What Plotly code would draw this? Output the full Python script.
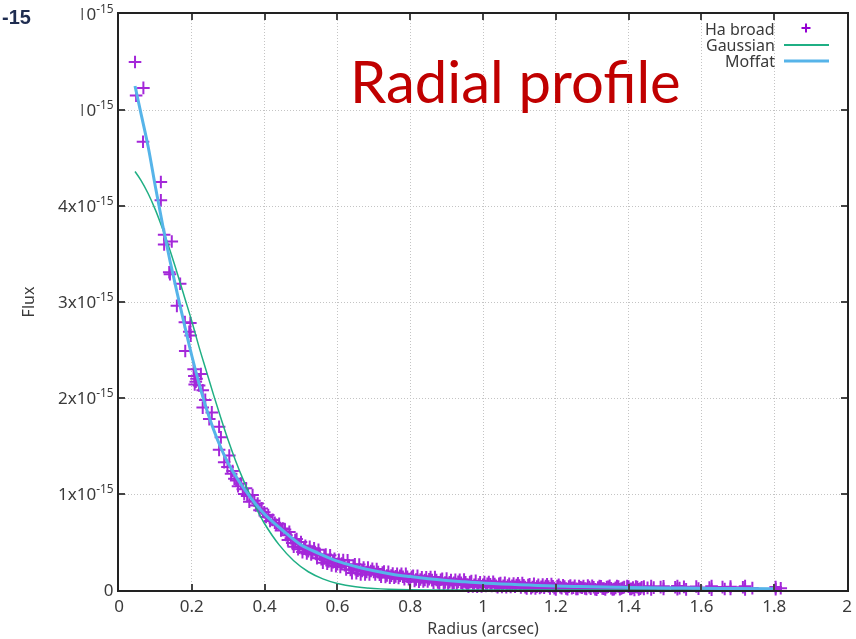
import plotly.graph_objects as go

# ---------------- data (flux in units of 1e-15) ----------------
ha_x = [0.044, 0.067, 0.047, 0.066, 0.115, 0.115, 0.124, 0.124, 0.145, 0.138, 0.140, 0.168, 0.159,
        0.181, 0.196, 0.193, 0.197, 0.182, 0.207, 0.225, 0.211, 0.220, 0.230, 0.205, 0.213, 0.208,
        0.237, 0.230, 0.255, 0.248, 0.275, 0.280, 0.275, 0.303, 0.289, 0.298, 0.308, 0.312, 0.317,
        0.322, 0.327, 0.335, 0.340, 0.349, 0.344, 0.352, 0.367, 0.358, 0.372, 0.376, 0.381, 0.386,
        0.392, 0.399, 0.404, 0.410, 0.415, 0.422, 0.428, 0.432, 0.440, 0.445, 0.450,
        0.456, 0.464, 0.472, 0.480, 0.488, 0.496, 0.504, 0.512, 0.520, 0.528,
        0.536, 0.544, 0.552, 0.560, 0.568, 0.576, 0.584, 0.592, 0.600, 0.608,
        0.616, 0.624, 0.632, 0.640, 0.648, 0.656, 0.664, 0.672, 0.680, 0.688,
        0.696, 0.704, 0.712, 0.720, 0.728, 0.736, 0.744, 0.752, 0.760, 0.768,
        0.776, 0.784, 0.792, 0.800, 0.808, 0.816, 0.824, 0.832, 0.840, 0.848,
        0.856, 0.864, 0.872, 0.880, 0.888, 0.896, 0.904, 0.912, 0.920, 0.928,
        0.936, 0.944, 0.952, 0.960, 0.968, 0.976, 0.984, 0.992, 1.000, 1.008,
        1.016, 1.024, 1.032, 1.040, 1.048, 1.056, 1.064, 1.072, 1.080, 1.088,
        1.096, 1.104, 1.112, 1.120, 1.128, 1.136, 1.144, 1.152, 1.160, 1.168,
        1.176, 1.184, 1.192, 1.200,
        0.460, 0.468, 0.476, 0.484, 0.492, 0.500, 0.508, 0.516, 0.524, 0.532,
        0.540, 0.548, 0.556, 0.564, 0.572, 0.580, 0.588, 0.596, 0.604, 0.612,
        0.620, 0.628, 0.636, 0.644, 0.652, 0.660, 0.668, 0.676, 0.684, 0.692,
        0.700, 0.708, 0.716, 0.724, 0.732, 0.740, 0.748, 0.756, 0.764, 0.772,
        0.780, 0.788, 0.796, 0.804, 0.812, 0.820, 0.828, 0.836, 0.844, 0.852,
        0.860, 0.868, 0.876, 0.884, 0.892, 0.900, 0.908, 0.916, 0.924, 0.932,
        0.940, 0.948, 0.956, 0.964, 0.972, 0.980, 0.988, 0.996, 1.004, 1.012,
        1.020, 1.028, 1.036, 1.044, 1.052, 1.060, 1.068, 1.076, 1.084, 1.092,
        1.100, 1.108, 1.116, 1.124, 1.132, 1.140, 1.148, 1.156, 1.164, 1.172,
        1.180, 1.188, 1.196, 1.204,
        1.208, 1.216, 1.224, 1.232, 1.240, 1.248, 1.256, 1.264, 1.272, 1.280,
        1.288, 1.296, 1.304, 1.312, 1.320, 1.328, 1.336, 1.344, 1.352, 1.360,
        1.368, 1.376, 1.384, 1.392, 1.400, 1.408, 1.416, 1.424, 1.432,
        1.212, 1.220, 1.228, 1.236, 1.244, 1.252, 1.260, 1.268, 1.276, 1.284,
        1.292, 1.300, 1.308, 1.316, 1.324, 1.332, 1.340, 1.348, 1.356, 1.364,
        1.372, 1.380, 1.388, 1.396, 1.404, 1.412, 1.420, 1.428, 1.436,
        1.442, 1.442, 1.452, 1.462, 1.462, 1.469, 1.488, 1.496, 1.496, 1.528,
        1.534, 1.534, 1.540, 1.552, 1.558, 1.586, 1.592, 1.622, 1.628, 1.628,
        1.658, 1.664, 1.680, 1.680, 1.714, 1.720, 1.720, 1.740, 1.804, 1.804, 1.818]
ha_y = [5.50, 5.23, 5.15, 4.67, 4.25, 4.06, 3.70, 3.60, 3.63, 3.31, 3.29, 3.19, 2.96,
        2.79, 2.78, 2.69, 2.65, 2.49, 2.23, 2.25, 2.17, 2.13, 2.08, 2.30, 2.20, 2.14,
        1.98, 1.90, 1.85, 1.78, 1.70, 1.59, 1.46, 1.40, 1.33, 1.28, 1.21, 1.24, 1.16,
        1.14, 1.08, 1.11, 1.05, 1.06, 1.00, 0.98, 0.99, 0.92, 0.93, 0.88, 0.90, 0.83,
        0.85, 0.81, 0.76, 0.78, 0.72, 0.73, 0.70, 0.68, 0.69, 0.62, 0.64,
        0.63, 0.52, 0.54, 0.45, 0.53, 0.44, 0.395, 0.46, 0.405, 0.37,
        0.435, 0.33, 0.368, 0.284, 0.37, 0.298, 0.256, 0.324, 0.27, 0.24,
        0.312, 0.213, 0.255, 0.176, 0.268, 0.20, 0.162, 0.235, 0.188, 0.161,
        0.222, 0.162, 0.186, 0.138, 0.192, 0.151, 0.128, 0.171, 0.142, 0.126,
        0.170, 0.112, 0.138, 0.092, 0.148, 0.109, 0.087, 0.132, 0.104, 0.089,
        0.134, 0.077, 0.104, 0.059, 0.117, 0.078, 0.057, 0.103, 0.076, 0.062,
        0.107, 0.051, 0.079, 0.035, 0.093, 0.054, 0.034, 0.080, 0.054, 0.041,
        0.083, 0.041, 0.061, 0.029, 0.072, 0.044, 0.029, 0.064, 0.044, 0.034,
        0.070, 0.027, 0.048, 0.016, 0.060, 0.032, 0.017, 0.053, 0.033, 0.023,
        0.059, 0.017, 0.038, 0.006,
        0.57, 0.605, 0.49, 0.52, 0.425, 0.50, 0.43, 0.38, 0.45, 0.40,
        0.38, 0.42, 0.32, 0.357, 0.274, 0.362, 0.29, 0.247, 0.315, 0.276,
        0.258, 0.309, 0.21, 0.252, 0.174, 0.266, 0.198, 0.162, 0.234, 0.198,
        0.189, 0.219, 0.159, 0.183, 0.136, 0.19, 0.15, 0.127, 0.17, 0.148,
        0.138, 0.17, 0.112, 0.138, 0.093, 0.149, 0.11, 0.088, 0.133, 0.112,
        0.103, 0.136, 0.079, 0.106, 0.062, 0.119, 0.08, 0.06, 0.105, 0.085,
        0.076, 0.11, 0.054, 0.082, 0.038, 0.095, 0.057, 0.037, 0.084, 0.064,
        0.06, 0.085, 0.043, 0.064, 0.031, 0.076, 0.046, 0.032, 0.067, 0.052,
        0.046, 0.072, 0.03, 0.052, 0.019, 0.064, 0.035, 0.021, 0.056, 0.041,
        0.036, 0.062, 0.02, 0.042,
        0.054, 0.020, 0.036, 0.009, 0.046, 0.023, 0.012, 0.040, 0.024, 0.015,
        0.047, 0.013, 0.029, 0.002, 0.040, 0.016, 0.006, 0.034, 0.018, 0.009,
        0.042, 0.008, 0.024, -0.003, 0.035, 0.012, 0.001, 0.030, 0.014,
        0.030, 0.050, 0.015, 0.035, 0.020, 0.045, 0.010, 0.028, 0.040, 0.012,
        0.030, 0.045, 0.008, 0.025, 0.038, 0.014, 0.030, 0.044, 0.005, 0.022,
        0.036, 0.016, 0.030, 0.041, 0.010, 0.025, 0.035, 0.007, 0.028,
        0.035, 0.010, 0.022, 0.040, 0.005, 0.025, 0.030, 0.012, 0.038, 0.028,
        0.008, 0.042, 0.020, 0.033, 0.006, 0.036, 0.014, 0.025, 0.040, 0.004,
        0.030, 0.010, 0.035, 0.012, 0.028, 0.006, 0.040, 0.020, 0.030, 0.008, 0.018]

gauss_x = [0.044, 0.06, 0.08, 0.10, 0.12, 0.14, 0.16, 0.18, 0.20, 0.22, 0.24, 0.26, 0.28, 0.30,
           0.32, 0.34, 0.36, 0.38, 0.40, 0.44, 0.48, 0.52, 0.56, 0.60, 0.65, 0.70, 0.80, 0.90,
           1.00, 1.20, 1.40, 1.60, 1.80]
gauss_y = [4.36, 4.27, 4.13, 3.96, 3.76, 3.54, 3.30, 3.05, 2.80, 2.53, 2.28, 2.03, 1.79, 1.56,
           1.35, 1.16, 0.99, 0.83, 0.69, 0.47, 0.305, 0.19, 0.116, 0.068, 0.033, 0.015, 0.002, 0.0003,
           0.0, 0.0, 0.0, 0.0, 0.0]

moffat_x = [0.044, 0.06, 0.08, 0.10, 0.12, 0.14, 0.16, 0.18, 0.20, 0.22, 0.24, 0.26, 0.28, 0.30,
            0.33, 0.36, 0.40, 0.45, 0.50, 0.55, 0.60, 0.65, 0.70, 0.75, 0.80, 0.85, 0.90, 0.95,
            1.00, 1.05, 1.10, 1.15, 1.20, 1.25, 1.30, 1.40, 1.50, 1.60, 1.70, 1.80]
moffat_y = [5.25, 4.97, 4.62, 4.20, 3.80, 3.43, 3.09, 2.76, 2.44, 2.15, 1.89, 1.67, 1.48, 1.32,
            1.13, 0.97, 0.79, 0.62, 0.47, 0.38, 0.30, 0.245, 0.20, 0.165, 0.14, 0.118, 0.10, 0.085,
            0.072, 0.063, 0.055, 0.048, 0.042, 0.037, 0.033, 0.027, 0.022, 0.018, 0.015, 0.013]

SCALE = 1e-15
x_ticks = [0, 0.2, 0.4, 0.6, 0.8, 1.0, 1.2, 1.4, 1.6, 1.8, 2.0]
x_tick_text = ["0", "0.2", "0.4", "0.6", "0.8", "1", "1.2", "1.4", "1.6", "1.8", "2"]
y_ticks = [0, 1, 2, 3, 4, 5, 6]
y_tick_text = ["0"] + [f"{v}x10<sup>-15</sup>" for v in y_ticks[1:]]

PURPLE = "#9400D3"
GREEN = "#1FAF84"
BLUE = "#56B4E9"
TXT = "#3a3a3a"
FONT = "Noto Sans"

fig = go.Figure()
fig.add_trace(go.Scatter(
    x=ha_x, y=[v * SCALE for v in ha_y], mode="markers", name="Ha broad",
    marker=dict(symbol="cross-thin", size=9, color=PURPLE, line=dict(color=PURPLE, width=2)),
    cliponaxis=False, opacity=0.85))
fig.add_trace(go.Scatter(
    x=gauss_x, y=[v * SCALE for v in gauss_y], mode="lines", name="Gaussian",
    line=dict(color=GREEN, width=1.5, shape="spline")))
fig.add_trace(go.Scatter(
    x=moffat_x, y=[v * SCALE for v in moffat_y], mode="lines", name="Moffat",
    line=dict(color=BLUE, width=3, shape="spline")))

W, H = 856, 639
ML, MR, MT, MB = 119, 9, 14, 49
PW, PH = W - ML - MR, H - MT - MB


def px(x):
    return (x - ML) / PW


def py(y):
    return (H - MB - y) / PH


annotations = [
    dict(text="Radial profile", x=px(515), y=py(81), xref="paper", yref="paper",
         showarrow=False, font=dict(family="Lato", size=58, color="#C00000"),
         xanchor="center", yanchor="middle"),
    dict(text="<b>-15</b>", x=px(0), y=py(17), xref="paper", yref="paper",
         showarrow=False, font=dict(family="Liberation Sans", size=20, color="#1f2d50"),
         xanchor="left", yanchor="middle"),
]
legend_items = [("Ha broad", 29), ("Gaussian", 45), ("Moffat", 61)]
for name, yy in legend_items:
    annotations.append(dict(text=name, x=px(777), y=py(yy), xref="paper", yref="paper",
                            showarrow=False, font=dict(family=FONT, size=16, color=TXT),
                            xanchor="right", yanchor="middle"))

shapes = [
    # white area hiding the clipped labels (as in the source screenshot)
    dict(type="rect", xref="paper", yref="paper", x0=px(-5), x1=px(81.5), y0=py(150), y1=py(-5),
         fillcolor="white", line=dict(width=0), layer="above"),
    # legend samples
    dict(type="line", xref="paper", yref="paper", x0=px(801.5), x1=px(810.5), y0=py(28), y1=py(28),
         line=dict(color=PURPLE, width=2), layer="above"),
    dict(type="line", xref="paper", yref="paper", x0=px(806), x1=px(806), y0=py(23.5), y1=py(32.5),
         line=dict(color=PURPLE, width=2), layer="above"),
    dict(type="line", xref="paper", yref="paper", x0=px(784), x1=px(829), y0=py(45), y1=py(45),
         line=dict(color=GREEN, width=2), layer="above"),
    dict(type="line", xref="paper", yref="paper", x0=px(784), x1=px(829), y0=py(61), y1=py(61),
         line=dict(color=BLUE, width=3), layer="above"),
]

axis_common = dict(
    showline=True, mirror="ticks", linecolor="#222222", linewidth=2,
    ticks="inside", ticklen=6, tickwidth=1.5, tickcolor="#444444",
    showgrid=True, gridcolor="#c4c4c4", griddash="1px,2px", gridwidth=1,
    zeroline=False, automargin=False, ticklabeloverflow="allow",
    tickfont=dict(family=FONT, size=17, color=TXT),
)

fig.update_layout(
    width=W, height=H, margin=dict(l=ML, r=MR, t=MT, b=MB),
    paper_bgcolor="white", plot_bgcolor="white", showlegend=False,
    xaxis=dict(range=[0, 2], tickvals=x_ticks, ticktext=x_tick_text,
               title=dict(text="Radius (arcsec)", font=dict(family=FONT, size=16, color=TXT), standoff=6),
               **axis_common),
    yaxis=dict(range=[0, 6 * SCALE], tickvals=[v * SCALE for v in y_ticks], ticktext=y_tick_text,
               title=dict(text="Flux", font=dict(family=FONT, size=16, color=TXT), standoff=19),
               **axis_common),
    annotations=annotations, shapes=shapes,
)

fig.write_html("out.html")
